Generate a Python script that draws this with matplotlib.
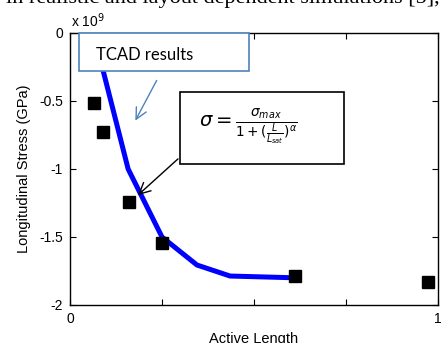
import matplotlib.pyplot as plt
import matplotlib.patches as mpatches

# TCAD curve (values in units of 1e9)
line_x = [0.064, 0.158, 0.25, 0.345, 0.435, 0.611]
line_y = [0.0, -1.0, -1.5, -1.706, -1.787, -1.80]

# measured points
sq_x = [0.066, 0.090, 0.160, 0.25, 0.611, 0.973]
sq_y = [-0.515, -0.73, -1.243, -1.545, -1.79, -1.83]

xticks = [0, 0.25, 0.5, 0.75, 1]
xtick_labels = ['0', '', '', '', '1']
yticks = [0, -0.5, -1, -1.5, -2]
ytick_labels = ['0', '-0.5', '-1', '-1.5', '-2']

plt.rcParams['font.family'] = ['Liberation Sans', 'DejaVu Sans']

fig = plt.figure(figsize=(4.44, 3.43), dpi=100)
ax = fig.add_axes([70/444, 38/343, 368/444, 272/343])

ax.plot(line_x, line_y, color='#0000ff', lw=3.6, solid_joinstyle='miter', zorder=2)
ax.plot(sq_x, sq_y, 'ks', ms=8.5, zorder=3)

ax.set_xlim(0, 1)
ax.set_ylim(-2, 0)
ax.set_xticks(xticks)
ax.set_xticklabels(xtick_labels)
ax.set_yticks(yticks)
ax.set_yticklabels(ytick_labels)
ax.tick_params(direction='in', top=True, right=True, length=4, width=0.8,
               labelsize=10, pad=5)
for sp in ax.spines.values():
    sp.set_linewidth(1.0)

ax.set_xlabel('Active Length', fontsize=10.5, labelpad=4)
ax.set_ylabel('Longitudinal Stress (GPa)', fontsize=10.5, labelpad=6)
ax.text(0.003, 1.012, r'x 10$^{9}$', transform=ax.transAxes, fontsize=10,
        ha='left', va='bottom')

# "TCAD results" callout
ax.add_patch(mpatches.Rectangle((0.0245, -0.279), 0.4615, 0.279,
                                facecolor='white', edgecolor='#4f81bd',
                                lw=1.2, zorder=4, clip_on=False))
ax.text(0.204, -0.16, 'TCAD results', family='Lato', fontsize=12,
        ha='center', va='center', zorder=5)
ax.annotate('', xy=(0.174, -0.662), xytext=(0.239, -0.331),
            arrowprops=dict(arrowstyle='->', color='#4f81bd', lw=1.0,
                            mutation_scale=20), zorder=5)

# formula callout
ax.add_patch(mpatches.Rectangle((0.299, -0.963), 0.446, 0.529,
                                facecolor='white', edgecolor='black',
                                lw=1.2, zorder=4))
ax.text(0.484, -0.69, r'$\sigma = \frac{\sigma_{max}}{1+(\frac{L}{L_{sat}})^{\alpha}}$',
        fontsize=14, ha='center', va='center', zorder=5)
ax.annotate('', xy=(0.179, -1.206), xytext=(0.299, -0.912),
            arrowprops=dict(arrowstyle='->', color='black', lw=1.0,
                            mutation_scale=20), zorder=5)

# cropped line of the surrounding paper text
fig.text(440/444, 1 - 3/343, 'in realistic and layout dependent simulations [5],',
         family='Liberation Serif', fontsize=16, ha='right', va='baseline')

fig.savefig('out.png', dpi=100)
